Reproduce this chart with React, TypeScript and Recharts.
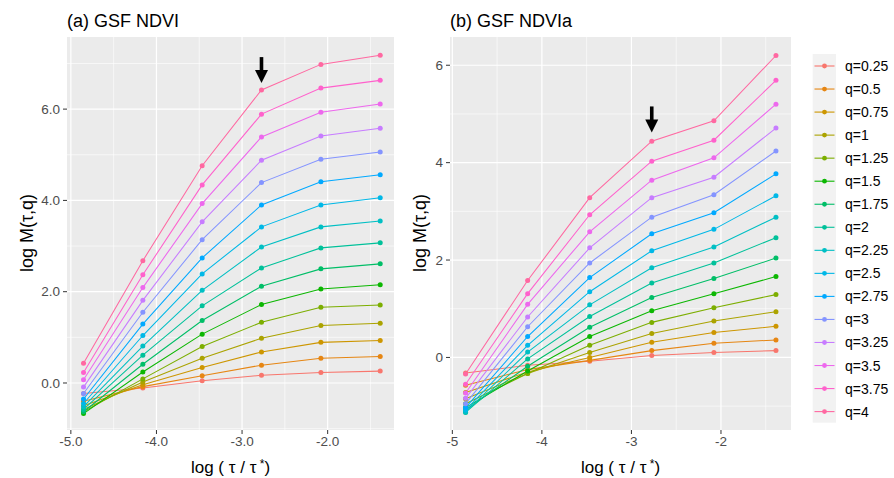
import React from 'react';
import { LineChart, Line, XAxis, YAxis, CartesianGrid, ReferenceDot } from 'recharts';

// log(tau/tau*) positions
const xValues = [-4.852, -4.159, -3.466, -2.773, -2.079, -1.386];

const qLabels = [
  'q=0.25', 'q=0.5', 'q=0.75', 'q=1', 'q=1.25', 'q=1.5', 'q=1.75', 'q=2',
  'q=2.25', 'q=2.5', 'q=2.75', 'q=3', 'q=3.25', 'q=3.5', 'q=3.75', 'q=4',
];

const qColors = [
  '#F8766D', '#E68613', '#CD9600', '#ABA300', '#7CAE00', '#0CB702', '#00BE67', '#00C19A',
  '#00BFC4', '#00B8E7', '#00A9FF', '#8494FF', '#C77CFF', '#ED68ED', '#FF61CC', '#FF68A1',
];

// (a) GSF NDVI : one row per q, values at xValues
const ndviByQ: number[][] = [
  [-0.23, -0.11, 0.05, 0.17, 0.23, 0.26],
  [-0.40, -0.08, 0.16, 0.39, 0.54, 0.58],
  [-0.50, -0.04, 0.34, 0.68, 0.89, 0.93],
  [-0.58, 0.02, 0.54, 0.98, 1.26, 1.31],
  [-0.63, 0.09, 0.80, 1.33, 1.66, 1.71],
  [-0.67, 0.24, 1.07, 1.72, 2.06, 2.15],
  [-0.63, 0.41, 1.37, 2.12, 2.50, 2.61],
  [-0.58, 0.61, 1.69, 2.52, 2.96, 3.07],
  [-0.52, 0.81, 2.03, 2.98, 3.42, 3.55],
  [-0.45, 1.04, 2.39, 3.42, 3.90, 4.06],
  [-0.35, 1.29, 2.74, 3.90, 4.41, 4.56],
  [-0.23, 1.55, 3.14, 4.39, 4.90, 5.06],
  [-0.09, 1.81, 3.53, 4.88, 5.41, 5.58],
  [0.07, 2.09, 3.93, 5.39, 5.93, 6.11],
  [0.23, 2.37, 4.34, 5.89, 6.46, 6.63],
  [0.43, 2.68, 4.76, 6.42, 6.98, 7.18],
];

// (b) GSF NDVIa : one row per q, values at xValues
const ndviaByQ: number[][] = [
  [-0.32, -0.16, -0.08, 0.04, 0.10, 0.14],
  [-0.57, -0.25, -0.06, 0.14, 0.29, 0.36],
  [-0.72, -0.30, 0.00, 0.31, 0.51, 0.64],
  [-0.85, -0.33, 0.10, 0.49, 0.75, 0.94],
  [-0.95, -0.33, 0.25, 0.72, 1.02, 1.29],
  [-1.03, -0.28, 0.43, 0.96, 1.31, 1.66],
  [-1.08, -0.18, 0.62, 1.23, 1.62, 2.04],
  [-1.13, -0.03, 0.84, 1.53, 1.94, 2.46],
  [-1.12, 0.11, 1.08, 1.84, 2.27, 2.88],
  [-1.08, 0.25, 1.35, 2.19, 2.63, 3.32],
  [-1.03, 0.43, 1.64, 2.54, 2.97, 3.77],
  [-0.95, 0.63, 1.94, 2.88, 3.34, 4.24],
  [-0.84, 0.83, 2.25, 3.28, 3.70, 4.71],
  [-0.73, 1.09, 2.58, 3.64, 4.10, 5.20],
  [-0.55, 1.31, 2.93, 4.03, 4.46, 5.69],
  [-0.34, 1.58, 3.28, 4.44, 4.86, 6.20],
];

const xTicks = [-5, -4, -3, -2];
const xMinor = [-4.5, -3.5, -2.5, -1.5];
const yTicksA = [0, 2, 4, 6];
const yMinorA = [-1, 1, 3, 5, 7];
const yTicksB = [0, 2, 4, 6];
const yMinorB = [-1, 1, 3, 5];

const arrowA = { x: -2.773, y: 6.57 };
const arrowB = { x: -2.773, y: 4.62 };

const FONT = '"Liberation Sans", Arial, sans-serif';

const buildRows = (series: number[][]) =>
  xValues.map((x, i) => {
    const row: Record<string, number> = { x };
    series.forEach((s, k) => {
      row[`s${k}`] = s[i];
    });
    return row;
  });

const ArrowShape = (props: any) => {
  const { cx, cy } = props;
  return (
    <g>
      <rect x={cx - 1.8} y={cy - 26} width={3.6} height={15} fill="#000" />
      <polygon points={`${cx - 6.5},${cy - 13} ${cx + 6.5},${cy - 13} ${cx},${cy}`} fill="#000" />
    </g>
  );
};

type PanelProps = {
  series: number[][];
  left: number;
  width: number;
  xDomain: [number, number];
  yDomain: [number, number];
  yTicks: number[];
  yMinor: number[];
  fmt: (v: number) => string;
  arrow: { x: number; y: number };
};

const Panel = ({ series, left, width, xDomain, yDomain, yTicks, yMinor, fmt, arrow }: PanelProps) => {
  const rows = buildRows(series);
  const tickStyle = { fill: '#4D4D4D', fontSize: 13.5, fontFamily: FONT };
  return (
    <div style={{ position: 'absolute', left, top: 0 }}>
      <LineChart width={width} height={478} data={rows} margin={{ top: 37, right: 6, bottom: 0, left: 0 }}>
        <CartesianGrid
          fill="#EBEBEB"
          stroke="#FFFFFF"
          strokeWidth={0.6}
          horizontalValues={yMinor}
          verticalValues={xMinor}
        />
        <CartesianGrid
          stroke="#FFFFFF"
          strokeWidth={1.2}
          horizontalValues={yTicks}
          verticalValues={xTicks}
        />
        <XAxis
          type="number"
          dataKey="x"
          domain={xDomain}
          ticks={xTicks}
          allowDataOverflow
          tickFormatter={fmt}
          height={48}
          tick={tickStyle}
          tickLine={{ stroke: '#333333' }}
          axisLine={false}
          tickSize={4}
          tickMargin={2}
        />
        <YAxis
          type="number"
          domain={yDomain}
          ticks={yTicks}
          allowDataOverflow
          tickFormatter={fmt}
          width={67}
          tick={tickStyle}
          tickLine={{ stroke: '#333333' }}
          axisLine={false}
          tickSize={4}
          tickMargin={3}
        />
        {series.map((_, k) => (
          <Line
            key={k}
            type="linear"
            dataKey={`s${k}`}
            stroke={qColors[k]}
            strokeWidth={1.05}
            dot={{ r: 2.5, fill: qColors[k], stroke: qColors[k], strokeWidth: 0 }}
            activeDot={false}
            isAnimationActive={false}
          />
        ))}
        <ReferenceDot x={arrow.x} y={arrow.y} r={0} shape={ArrowShape} ifOverflow="visible" />
      </LineChart>
    </div>
  );
};

const XTitle = ({ cx }: { cx: number }) => (
  <text x={cx} y={473} textAnchor="middle" fontSize={17} fill="#000" fontFamily={FONT}>
    log ( τ / τ
    <tspan dy={-5} fontSize={12}> *</tspan>
    <tspan dy={5}>)</tspan>
  </text>
);

const YTitle = ({ cx }: { cx: number }) => (
  <text
    transform={`translate(${cx},233) rotate(-90)`}
    textAnchor="middle"
    dominantBaseline="central"
    fontSize={18}
    fill="#000"
    fontFamily={FONT}
  >
    log M(τ,q)
  </text>
);

export default function App() {
  const legendTop = 66;
  const legendStep = 23.04;
  return (
    <div style={{ position: 'absolute', left: 0, top: 0, width: 894, height: 478, background: '#FFFFFF', fontFamily: FONT }}>
      <Panel
        series={ndviByQ}
        left={0}
        width={400}
        xDomain={[-5.045, -1.225]}
        yDomain={[-1.03, 7.58]}
        yTicks={yTicksA}
        yMinor={yMinorA}
        fmt={(v) => v.toFixed(1)}
        arrow={arrowA}
      />
      <Panel
        series={ndviaByQ}
        left={383}
        width={414}
        xDomain={[-5.026, -1.218]}
        yDomain={[-1.49, 6.58]}
        yTicks={yTicksB}
        yMinor={yMinorB}
        fmt={(v) => String(v)}
        arrow={arrowB}
      />
      <svg width={894} height={478} style={{ position: 'absolute', left: 0, top: 0, pointerEvents: 'none' }}>
        <text x={67} y={27} fontSize={18} fill="#000" fontFamily={FONT}>(a) GSF NDVI</text>
        <text x={450} y={27} fontSize={18} fill="#000" fontFamily={FONT}>(b) GSF NDVIa</text>
        <YTitle cx={27} />
        <YTitle cx={420} />
        <XTitle cx={230.5} />
        <XTitle cx={620.5} />
        <rect x={812.7} y={54} width={23.3} height={368.7} fill="#F2F2F2" />
        {qLabels.map((lab, k) => {
          const cy = legendTop + k * legendStep;
          return (
            <g key={lab}>
              <line x1={814.5} x2={834.5} y1={cy} y2={cy} stroke={qColors[k]} strokeWidth={1.1} />
              <circle cx={824.5} cy={cy} r={2.4} fill={qColors[k]} />
              <text x={845} y={cy} dominantBaseline="central" fontSize={14} fill="#000" fontFamily={FONT}>
                {lab}
              </text>
            </g>
          );
        })}
      </svg>
    </div>
  );
}
